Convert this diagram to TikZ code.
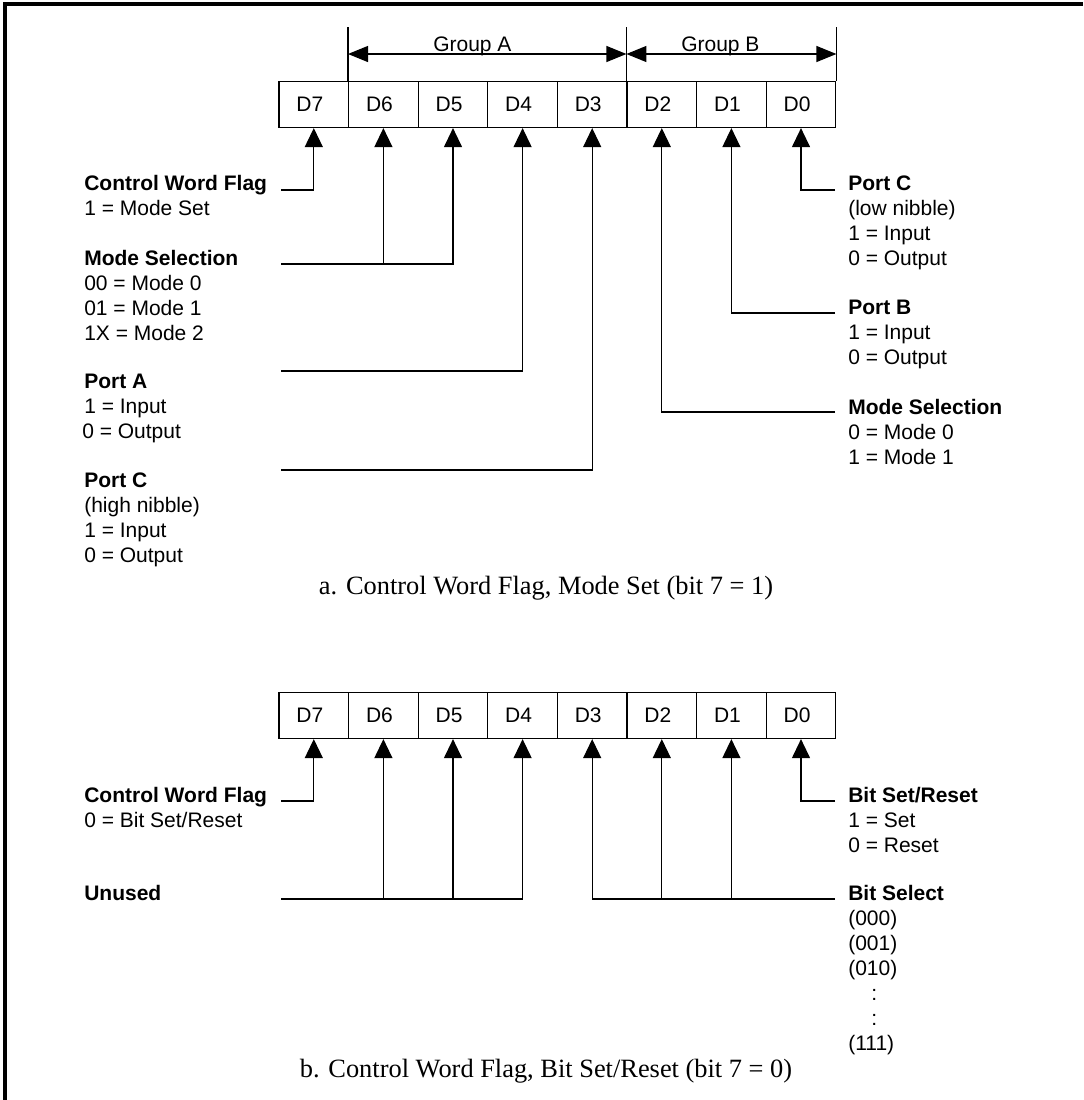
\documentclass[tikz,border=0pt]{standalone}
\usepackage{fontspec}
\setmainfont{Liberation Serif}
\setsansfont{Liberation Sans}
\usetikzlibrary{arrows.meta}
\begin{document}
\begin{tikzpicture}[x=0.75pt,y=-0.75pt,
  cell/.style={draw, line width=0.9pt, minimum width=52.2pt, minimum height=34.5pt,
    text width=26.1pt, inner xsep=13.05pt, inner ysep=0pt, align=left,
    font=\sffamily\fontsize{15.75}{18}\selectfont},
  lbl/.style={anchor=base west, inner sep=0pt, font=\sffamily\fontsize{15.75}{18.75}\selectfont},
  glbl/.style={anchor=base west, inner sep=0pt, font=\sffamily\fontsize{15.75}{18}\selectfont},
  captxt/.style={anchor=base, inner sep=0pt, font=\rmfamily\fontsize{19.8}{24}\selectfont},
  conn/.style={line width=0.9pt},
  arr/.style={line width=0.9pt, -{Triangle[length=14.25pt,width=13.5pt]}},
  garr/.style={line width=0.9pt, {Triangle[length=15pt,width=12pt]}-{Triangle[length=15pt,width=12pt]}}]
\useasboundingbox (0,0) rectangle (1083,1100);
% frame
\draw[line width=3pt, line join=miter] (5,1100) -- (5,3.7) -- (1083,3.7);

% ---------- register a ----------
\foreach \n [count=\k from 0] in {7,6,5,4,3,2,1,0}
  \node[cell] (a\n) at ({313.8+69.6*\k},104.5) {D\n};

% group ticks and arrows
\coordinate (tk) at (0,27);
\coordinate (gy) at (0,54);
\draw[conn] (a6.north west) -- (a6.north west |- tk);
\draw[conn] (a2.north west) -- (a2.north west |- tk);
\draw[conn] (a0.north east) -- (a0.north east |- tk);
\draw[garr] (a6.north west |- gy) -- (a2.north west |- gy);
\draw[garr] (a2.north west |- gy) -- (a0.north east |- gy);
\node[glbl] (gA) at (433,51.5) {Group A};
\node[glbl] (gB) at (681,51.5) {Group B};

% left labels a
\node[lbl] (cwfAt) at (84,190) {\vtop{\hbox{\bfseries Control Word Flag}\hbox{1 = Mode Set}}};
\node[lbl] (msAt) at (84,265) {\vtop{\hbox{\bfseries Mode Selection}\hbox{00 = Mode 0}\hbox{01 = Mode 1}\hbox{1X = Mode 2}}};
\node[lbl] (paAt) at (84,388) {\vtop{\hbox{\bfseries Port A}\hbox{1 = Input}\hbox{\hspace{-1.5pt}0 = Output}}};
\node[lbl] (pcAt) at (84,487) {\vtop{\hbox{\bfseries Port C}\hbox{(high nibble)}\hbox{1 = Input}\hbox{0 = Output}}};

% right labels a
\node[lbl] (pclAt) at (848,190) {\vtop{\hbox{\bfseries Port C}\hbox{(low nibble)}\hbox{1 = Input}\hbox{0 = Output}}};
\node[lbl] (pbAt) at (848,314) {\vtop{\hbox{\bfseries Port B}\hbox{1 = Input}\hbox{0 = Output}}};
\node[lbl] (msBt) at (848,414) {\vtop{\hbox{\bfseries Mode Selection}\hbox{0 = Mode 0}\hbox{1 = Mode 1}}};

% connectors a
\coordinate (cwfA) at (281,190);
\coordinate (msA) at (281,264);
\coordinate (paA) at (281,371);
\coordinate (pcA) at (281,470);
\coordinate (pclA) at (835,190);
\coordinate (pbA) at (835,313);
\coordinate (msB) at (835,412);
\draw[arr] (cwfA) -| (a7.south);
\draw[arr] (msA) -| (a5.south);
\draw[arr] (a6.south |- msA) -- (a6.south);
\draw[arr] (paA) -| (a4.south);
\draw[arr] (pcA) -| (a3.south);
\draw[arr] (pclA) -| (a0.south);
\draw[arr] (pbA) -| (a1.south);
\draw[arr] (msB) -| (a2.south);

\node[captxt] (capA) at (546,594) {a. Control Word Flag, Mode Set (bit 7 = 1)};

% ---------- register b ----------
\foreach \n [count=\k from 0] in {7,6,5,4,3,2,1,0}
  \node[cell] (b\n) at ({313.8+69.6*\k},715.5) {D\n};

\node[lbl] (cwfBt) at (84,802) {\vtop{\hbox{\bfseries Control Word Flag}\hbox{0 = Bit Set/Reset}}};
\node[lbl] (unBt) at (84,900) {\bfseries Unused};
\node[lbl] (bsrBt) at (848,802) {\vtop{\hbox{\bfseries Bit Set/Reset}\hbox{1 = Set}\hbox{0 = Reset}}};
\node[lbl] (bselBt) at (848,900) {\vtop{\hbox{\bfseries Bit Select}\hbox{(000)}\hbox{(001)}\hbox{(010)}\hbox{\hspace{17.3pt}:}\hbox{\hspace{17.3pt}:}\hbox{(111)}}};

\coordinate (cwfB) at (281,801);
\coordinate (unB) at (281,899);
\coordinate (bsrB) at (835,801);
\coordinate (bselB) at (835,899);
\draw[arr] (cwfB) -| (b7.south);
\draw[arr] (unB) -| (b4.south);
\draw[arr] (b6.south |- unB) -- (b6.south);
\draw[arr] (b5.south |- unB) -- (b5.south);
\draw[arr] (bsrB) -| (b0.south);
\draw[arr] (bselB) -| (b3.south);
\draw[arr] (b2.south |- bselB) -- (b2.south);
\draw[arr] (b1.south |- bselB) -- (b1.south);

\node[captxt] (capB) at (546,1077) {b. Control Word Flag, Bit Set/Reset (bit 7 = 0)};
\end{tikzpicture}
\end{document}
